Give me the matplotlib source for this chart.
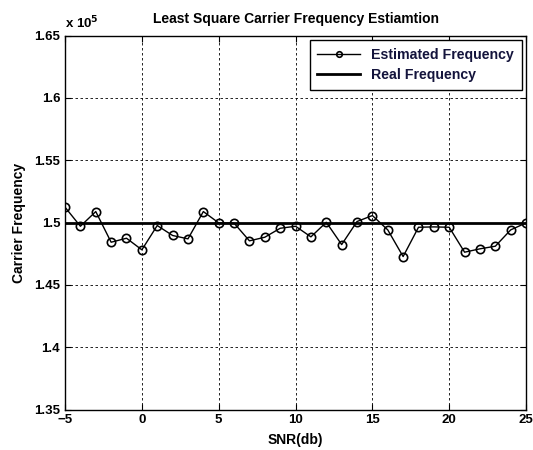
import matplotlib.pyplot as plt
import numpy as np

plt.rcParams['font.family'] = ['Liberation Sans', 'DejaVu Sans']
plt.rcParams['font.weight'] = 'bold'

snr = list(range(-5, 26))
est_freq = [1.5123, 1.4970, 1.5088, 1.4842, 1.4874, 1.4781, 1.4976, 1.4896,
            1.4869, 1.5088, 1.4997, 1.4995, 1.4853, 1.4882, 1.4954, 1.4970,
            1.4885, 1.5002, 1.4823, 1.5008, 1.5056, 1.4941, 1.4727, 1.4962,
            1.4965, 1.4962, 1.4762, 1.4789, 1.4810, 1.4941, 1.4997]
real_freq = 1.5
yticks = [1.35, 1.4, 1.45, 1.5, 1.55, 1.6, 1.65]
xticks = [-5, 0, 5, 10, 15, 20, 25]

fig = plt.figure(figsize=(5.33, 4.5), dpi=100)
ax = fig.add_axes([0.122, 0.09, 0.865, 0.831])

ax.plot(snr, est_freq, color='black', lw=1.0, marker='o', ms=6,
        mfc='none', mec='black', mew=1.2, label='Estimated Frequency')
ax.plot(snr, [real_freq] * len(snr), color='black', lw=2.0, label='Real Frequency')

ax.set_xlim(-5, 25)
ax.set_ylim(1.35, 1.65)
ax.set_xticks(xticks)
ax.set_yticks(yticks)
ax.set_yticklabels(['1.35', '1.4', '1.45', '1.5', '1.55', '1.6', '1.65'])
ax.grid(True, color='black', ls=(0, (3, 3)), lw=0.6)
ax.tick_params(direction='in', top=True, right=True, labelsize=9.5, length=4)
for s in ax.spines.values():
    s.set_linewidth(1.0)

ax.set_title('Least Square Carrier Frequency Estiamtion', fontsize=10,
             fontweight='bold', pad=9)
ax.set_xlabel('SNR(db)', fontsize=10, fontweight='bold', labelpad=5)
ax.set_ylabel('Carrier Frequency', fontsize=10, fontweight='bold', labelpad=6)
ax.text(0.0, 1.012, r'x 10$^5$', transform=ax.transAxes, fontsize=9.5,
        fontweight='bold', ha='left', va='bottom')

leg = ax.legend(loc='upper right', fontsize=10.2, frameon=True, fancybox=False,
                edgecolor='black', framealpha=1, handlelength=3.0,
                borderaxespad=0.3, labelspacing=0.45, borderpad=0.55)
leg.get_frame().set_linewidth(1.0)
leg.legend_handles[0].set_markersize(4)
for t in leg.get_texts():
    t.set_color('#14143c')

fig.savefig('out.png', dpi=100)
